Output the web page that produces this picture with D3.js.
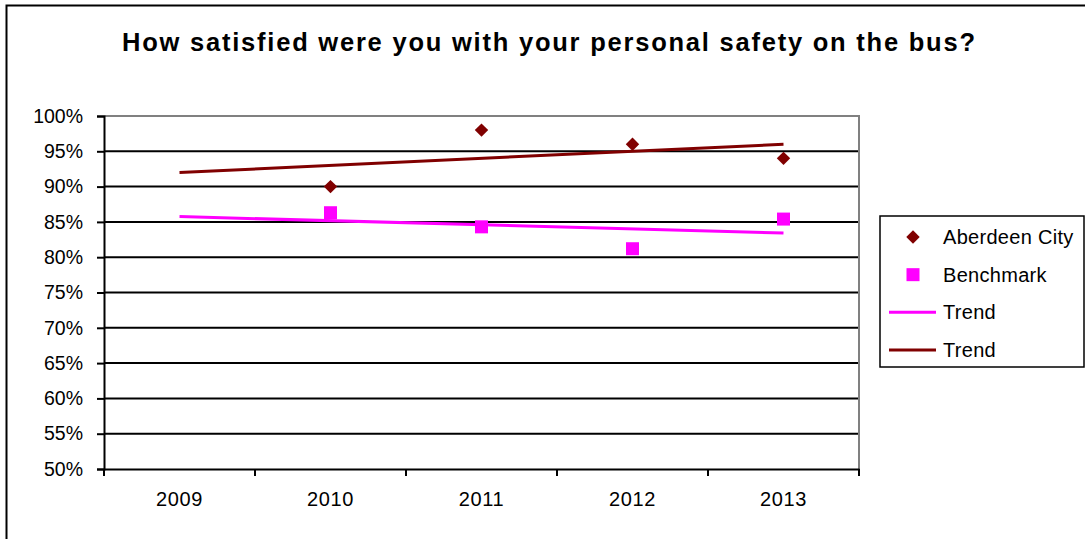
<!DOCTYPE html>
<html>
<head>
<meta charset="utf-8">
<script src="https://cdn.jsdelivr.net/npm/d3@7"></script>
<style>
  html, body { margin: 0; padding: 0; background: #fff; }
  svg { display: block; font-family: "Liberation Sans", Arial, sans-serif; }
</style>
</head>
<body>
<svg id="chart" width="1085" height="539"></svg>
<script>
// Survey results: share satisfied with personal safety on the bus
const years = ["2009", "2010", "2011", "2012", "2013"];
const aberdeenCity = [null, 90, 98, 96, 94];
const benchmark = [null, 86.3, 84.3, 81.2, 85.4];
const yTicks = [50, 55, 60, 65, 70, 75, 80, 85, 90, 95, 100];

const titleText = "How satisfied were you with your personal safety on the bus?";
const cityColor = "#800000";
const benchColor = "#ff00ff";
const labelFont = "'Liberation Sans', Arial, sans-serif";

const svg = d3.select("#chart");
const plot = { left: 104, right: 859, top: 116, bottom: 469 };

// outer chart frame
svg.append("rect")
  .attr("x", 6.5).attr("y", 5.5)
  .attr("width", 1085).attr("height", 540)
  .attr("fill", "#fff").attr("stroke", "#000").attr("stroke-width", 2);

svg.append("text")
  .attr("x", 122).attr("y", 51)
  .attr("font-size", 25.5).attr("font-weight", "bold")
  .attr("textLength", 853).attr("lengthAdjust", "spacing")
  .text(titleText);

const x = d3.scaleBand().domain(years).range([plot.left, plot.right]);
const y = d3.scaleLinear().domain([50, 100]).range([plot.bottom, plot.top]);

// horizontal gridlines
svg.append("g").selectAll("line")
  .data(yTicks.filter(t => t > 50 && t < 100))
  .join("line")
  .attr("x1", plot.left).attr("x2", plot.right)
  .attr("y1", d => y(d)).attr("y2", d => y(d))
  .attr("stroke", "#000").attr("stroke-width", 2);

// plot area border (top and right)
svg.append("path")
  .attr("d", `M${plot.left},${y(100)}H${plot.right}V${plot.bottom}`)
  .attr("fill", "none").attr("stroke", "#808080").attr("stroke-width", 2);

// y axis
const yAxis = svg.append("g")
  .attr("transform", `translate(${plot.left},0)`)
  .call(d3.axisLeft(y).tickValues(yTicks).tickSize(7).tickPadding(14)
    .tickFormat(d => d + "%"));
yAxis.select(".domain").attr("stroke", "#000").attr("stroke-width", 2);
yAxis.selectAll(".tick line").attr("stroke", "#000").attr("stroke-width", 2);
yAxis.selectAll(".tick text")
  .attr("font-size", 19.5).attr("fill", "#000")
  .attr("font-family", labelFont);

// x axis with ticks at category boundaries
const xAxis = svg.append("g")
  .attr("transform", `translate(0,${plot.bottom})`)
  .call(d3.axisBottom(x).tickSize(0).tickPadding(23));
xAxis.select(".domain").attr("stroke", "#000").attr("stroke-width", 2);
xAxis.selectAll(".tick text")
  .attr("font-size", 20).attr("letter-spacing", 0.6).attr("fill", "#000")
  .attr("font-family", labelFont);
xAxis.selectAll(".boundary")
  .data(years.map(d => x(d)).concat([x(years[years.length - 1]) + x.bandwidth()]))
  .join("line")
  .attr("class", "boundary")
  .attr("x1", d => d).attr("x2", d => d)
  .attr("y1", 0).attr("y2", 7)
  .attr("stroke", "#000").attr("stroke-width", 2);

const cx = d => x(d) + x.bandwidth() / 2;

// least-squares linear trend over the category index (1-based)
function trendOf(values) {
  const pts = values.map((v, i) => [i + 1, v]).filter(p => p[1] != null);
  const mx = d3.mean(pts, p => p[0]), my = d3.mean(pts, p => p[1]);
  const slope = d3.sum(pts, p => (p[0] - mx) * (p[1] - my)) /
                d3.sum(pts, p => (p[0] - mx) ** 2);
  return years.map((yr, i) => ({ year: yr, value: my + slope * (i + 1 - mx) }));
}

const line = d3.line().x(d => cx(d.year)).y(d => y(d.value));
const benchTrend = trendOf(benchmark);
const cityTrend = trendOf(aberdeenCity);
const ends = t => [t[0], t[t.length - 1]];

svg.append("path").datum(ends(benchTrend)).attr("d", line)
  .attr("fill", "none").attr("stroke", benchColor).attr("stroke-width", 3);
svg.append("path").datum(ends(cityTrend)).attr("d", line)
  .attr("fill", "none").attr("stroke", cityColor).attr("stroke-width", 3);

const diamond = d3.symbol().type(d3.symbolDiamond2).size(115);

svg.append("g").selectAll("path")
  .data(years.map((yr, i) => ({ year: yr, value: aberdeenCity[i] })).filter(d => d.value != null))
  .join("path")
  .attr("d", diamond)
  .attr("transform", d => `translate(${cx(d.year)},${y(d.value)})`)
  .attr("fill", cityColor);

svg.append("g").selectAll("rect")
  .data(years.map((yr, i) => ({ year: yr, value: benchmark[i] })).filter(d => d.value != null))
  .join("rect")
  .attr("x", d => cx(d.year) - 6.5).attr("y", d => y(d.value) - 6.5)
  .attr("width", 13).attr("height", 13)
  .attr("fill", benchColor);

// legend
const legend = svg.append("g");
legend.append("rect")
  .attr("x", 880).attr("y", 216).attr("width", 204).attr("height", 151)
  .attr("fill", "#fff").attr("stroke", "#000").attr("stroke-width", 1.5);

const legendItems = [
  { label: "Aberdeen City", kind: "diamond", color: cityColor },
  { label: "Benchmark", kind: "square", color: benchColor },
  { label: "Trend", kind: "line", color: benchColor },
  { label: "Trend", kind: "line", color: cityColor }
];
const ly = d3.scalePoint().domain(d3.range(legendItems.length)).range([237, 350]);

legendItems.forEach((item, i) => {
  const yy = ly(i);
  if (item.kind === "diamond") {
    legend.append("path").attr("d", diamond)
      .attr("transform", `translate(913,${yy})`).attr("fill", item.color);
  } else if (item.kind === "square") {
    legend.append("rect").attr("x", 906.5).attr("y", yy - 6.5)
      .attr("width", 13).attr("height", 13).attr("fill", item.color);
  } else {
    legend.append("line").attr("x1", 889).attr("x2", 936)
      .attr("y1", yy).attr("y2", yy)
      .attr("stroke", item.color).attr("stroke-width", 3);
  }
  legend.append("text")
    .attr("x", 943).attr("y", yy + 7)
    .attr("font-size", 20).attr("letter-spacing", 0.3)
    .attr("fill", "#000")
    .text(item.label);
});
</script>
</body>
</html>
